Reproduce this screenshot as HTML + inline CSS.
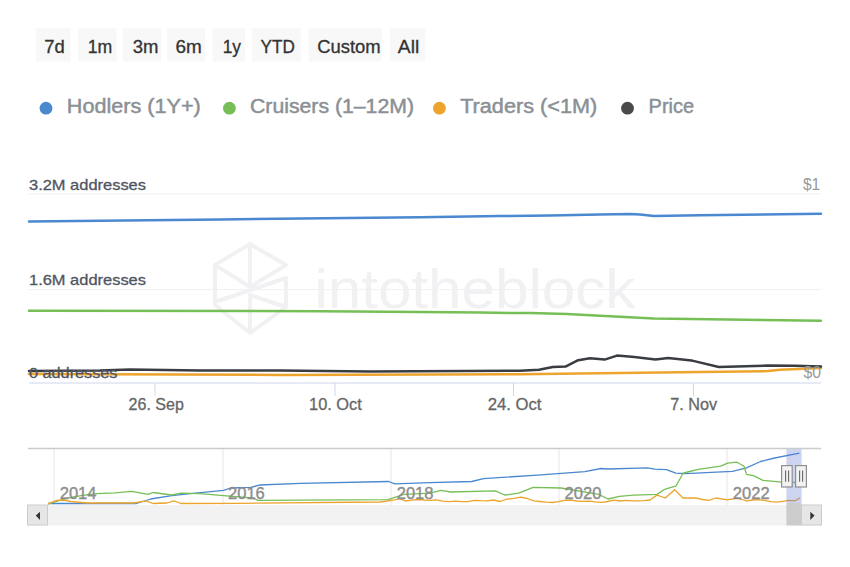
<!DOCTYPE html>
<html><head><meta charset="utf-8">
<style>
html,body{margin:0;padding:0;background:#fff;width:850px;height:567px;overflow:hidden}
svg{display:block;font-family:"Liberation Sans",sans-serif}
</style></head>
<body>
<svg width="850" height="567" viewBox="0 0 850 567">
<!-- range selector buttons -->
<g fill="#f8f8f8">
<rect x="36" y="28" width="34.5" height="33.5" rx="1"/>
<rect x="78" y="28" width="38.5" height="33.5" rx="1"/>
<rect x="122.6" y="28" width="39" height="33.5" rx="1"/>
<rect x="167" y="28" width="38" height="33.5" rx="1"/>
<rect x="212.6" y="28" width="32.4" height="33.5" rx="1"/>
<rect x="252" y="28" width="48.8" height="33.5" rx="1"/>
<rect x="308.5" y="28" width="73.3" height="33.5" rx="1"/>
<rect x="389.8" y="28" width="35.5" height="33.5" rx="1"/>
</g>
<g fill="#333" stroke="#333" stroke-width="0.3" font-size="17.6">
<text x="44.3" y="52.6" textLength="20.5" lengthAdjust="spacingAndGlyphs">7d</text>
<text x="87.7" y="52.6" textLength="24.6" lengthAdjust="spacingAndGlyphs">1m</text>
<text x="132.7" y="52.6" textLength="25.7" lengthAdjust="spacingAndGlyphs">3m</text>
<text x="175.5" y="52.6" textLength="26.3" lengthAdjust="spacingAndGlyphs">6m</text>
<text x="222.7" y="52.6" textLength="18.3" lengthAdjust="spacingAndGlyphs">1y</text>
<text x="260.6" y="52.6" textLength="34.2" lengthAdjust="spacingAndGlyphs">YTD</text>
<text x="317.2" y="52.6" textLength="63.5" lengthAdjust="spacingAndGlyphs">Custom</text>
<text x="397.8" y="52.6" textLength="21.4" lengthAdjust="spacingAndGlyphs">All</text>
</g>
<!-- legend -->
<circle cx="46" cy="108.2" r="6.4" fill="#4a88d0"/>
<circle cx="229.4" cy="108.2" r="6.4" fill="#76bf56"/>
<circle cx="439.4" cy="108.2" r="6.4" fill="#eca42c"/>
<circle cx="627.5" cy="108.2" r="6.4" fill="#4a4a4a"/>
<g fill="#8a9095" stroke="#8a9095" stroke-width="0.45" font-size="19.5">
<text x="66.8" y="113.2" textLength="134" lengthAdjust="spacingAndGlyphs">Hodlers (1Y+)</text>
<text x="250" y="113.2" textLength="164" lengthAdjust="spacingAndGlyphs">Cruisers (1–12M)</text>
<text x="460.2" y="113.2" textLength="137" lengthAdjust="spacingAndGlyphs">Traders (&lt;1M)</text>
<text x="648.6" y="113.2" textLength="45.5" lengthAdjust="spacingAndGlyphs">Price</text>
</g>
<!-- grid -->
<g stroke="#f0f0f0" stroke-width="1">
<line x1="29" y1="193.9" x2="821" y2="193.9"/>
<line x1="29" y1="289.6" x2="821" y2="289.6"/>
</g>
<line x1="29" y1="383" x2="821" y2="383" stroke="#ccd6eb" stroke-width="1"/>
<g stroke="#ccd6eb" stroke-width="1">
<line x1="155" y1="383" x2="155" y2="396"/>
<line x1="335" y1="383" x2="335" y2="396"/>
<line x1="513.5" y1="383" x2="513.5" y2="396"/>
<line x1="693.5" y1="383" x2="693.5" y2="396"/>
</g>
<!-- watermark -->
<g fill="none" stroke="#f1f1f4" stroke-width="4" stroke-linejoin="round" stroke-linecap="round">
<path d="M250,244 L286,265 M250,244 L215,265 L215,302 M250,244 L250,287 M215,265 L250,287 L286,265 M286,278 L215,302 M286,278 L286,307 M250,295 L286,307 M250,298 L250,333 M215,305 L250,333 L286,307"/>
</g>
<text x="314.4" y="307.6" font-size="56" fill="#f1f1f4" textLength="321" lengthAdjust="spacingAndGlyphs">intotheblock</text>
<!-- main series -->
<g fill="none" stroke-width="2.5" stroke-linejoin="round" stroke-linecap="round">
<path stroke="#4a88d0" d="M29,221.5 L220,219.5 L420,217.2 L500,216.1 L550,215.4 L600,214.5 L630,214.1 L640,214.4 L654,216.1 L700,215.2 L821,213.8"/>
<path stroke="#76bf56" d="M29,310.7 L320,311.2 L420,312 L480,312.6 L530,313.1 L567,314 L600,315.7 L654,318.4 L821,320.8"/>
<path stroke="#eca42c" d="M29,374.1 L280,374.9 L520,374.2 L700,372.1 L768,371.1 L780,369.7 L821,368"/>
<path stroke="#393c41" d="M29,371 L100,370.6 L130,369.5 L200,370.4 L280,370.5 L370,371.4 L520,370.8 L539,369.8 L552.8,367 L565.5,366.6 L578.2,360.2 L590,358.3 L604.7,359.6 L617,355.6 L634.4,357 L655.5,359.4 L668.2,358.1 L691.5,360.5 L693.2,360.9 L718.8,367 L768,365.6 L794.7,365.8 L821,366.5"/>
</g>
<!-- axis labels -->
<g fill="#4f5563" stroke="#4f5563" stroke-width="0.3" font-size="15">
<text x="29" y="189.8" textLength="117" lengthAdjust="spacingAndGlyphs">3.2M addresses</text>
<text x="29" y="284.8" textLength="117" lengthAdjust="spacingAndGlyphs">1.6M addresses</text>
<text x="29" y="378.3" textLength="88.5" lengthAdjust="spacingAndGlyphs">0 addresses</text>
</g>
<g fill="#999" font-size="16.5">
<text x="803" y="190.2" textLength="17.2" lengthAdjust="spacingAndGlyphs">$1</text>
<text x="803.5" y="378.2" textLength="17.5" lengthAdjust="spacingAndGlyphs">$0</text>
</g>
<g fill="#666" stroke="#666" stroke-width="0.3" font-size="16.4">
<text x="128.6" y="409.7" textLength="55.2" lengthAdjust="spacingAndGlyphs">26. Sep</text>
<text x="309.1" y="409.7" textLength="52.7" lengthAdjust="spacingAndGlyphs">10. Oct</text>
<text x="487.7" y="409.7" textLength="53.7" lengthAdjust="spacingAndGlyphs">24. Oct</text>
<text x="670.3" y="409.7" textLength="46.9" lengthAdjust="spacingAndGlyphs">7. Nov</text>
</g>
<!-- navigator -->
<g stroke="#e6e6e6" stroke-width="1">
<line x1="54" y1="449" x2="54" y2="505"/>
<line x1="223" y1="449" x2="223" y2="505"/>
<line x1="391" y1="449" x2="391" y2="505"/>
<line x1="559" y1="449" x2="559" y2="505"/>
<line x1="727" y1="449" x2="727" y2="505"/>
</g>
<g fill="none" stroke-width="1.3" stroke-linejoin="round">
<path stroke="#4a88d0" d="M48,503.5 L136.5,503.5 L150.6,499 L171.8,495.6 L190.6,493.7 L223.5,490.4 L230.6,488 L251,487.4 L259.4,485 L300.6,483.4 L388.8,481.5 L394.7,483.8 L430,482.6 L471.8,481.5 L483.5,478.6 L537.6,475.1 L584.7,471.6 L601,468.5 L608,469 L647.6,467.8 L654.7,469.2 L666.5,469.7 L675.9,473.2 L685.3,473.7 L732.4,471.4 L746.5,467.8 L760.6,461.5 L774.7,458 L799.4,453.2"/>
<path stroke="#76bf56" d="M48.2,503.8 L68,498 L81,495.6 L96.5,493.7 L115,492.8 L131.8,491.4 L148,494.4 L153,492.5 L171.8,495 L181,493.2 L200,493.7 L223.5,495.6 L252.4,498 L258,500.3 L388,499.6 L404,494.4 L430,493.2 L441,490.4 L450.6,492 L495.3,490.9 L504.7,495 L518.8,493.2 L533,487.4 L561,488 L598.8,494.4 L608,499 L619.4,496.3 L633.5,495.1 L657,494.4 L664,489.7 L671,487.4 L675.9,486.2 L683,473.2 L687.6,472 L699.4,469.2 L708.8,467.8 L720.6,466.2 L727.6,463.1 L737,462.2 L744,466.2 L746.5,474.4 L753.5,475.6 L763,480.3 L781.8,482.2 L799,482.5"/>
<path stroke="#eca42c" d="M48,503.8 L56.5,500.3 L63.5,500 L70.6,501.5 L87,503 L134,503 L146,500.8 L153,503.5 L167,503 L174,500.8 L181,503.5 L240,503.3 L380,502 L394.7,499.8 L399.4,498.6 L405.3,501 L411.5,500.1 L417.6,499.5 L423.8,500.0 L430,500.3 L436.4,499.9 L442.7,501.2 L449.1,501.7 L455.5,501.1 L461.8,501.7 L468.2,501.6 L474.5,500.4 L480.9,500.7 L487.3,500.8 L493.6,500.0 L500,501.5 L507.0,499.2 L514.0,498.4 L521,497.2 L527.3,498.5 L533.7,500.8 L540,501.5 L546.2,502.1 L552.3,502.5 L558.5,501.6 L564.6,500.3 L570.8,500.2 L576.9,501.0 L583.1,501.3 L589.2,501.2 L595.4,501.9 L601.5,502.4 L607.7,501.5 L613.8,500.2 L620,501 L626.0,500.4 L632.0,500.9 L638.0,500.9 L644.0,500.6 L650,500 L657,495.1 L665.3,498 L674.7,489.7 L683,498 L689.5,498.0 L695.9,497.8 L702.3,499.5 L708.8,500.3 L715.9,498 L727.6,499.8 L737,498 L746.5,500.8 L752.6,500.0 L758.6,499.6 L764.7,500.4 L770.8,501.7 L776.8,502.1 L782.9,501.3 L788.9,500.4 L795,500.8 L800,498"/>
</g>
<rect x="786.4" y="449" width="15.2" height="54" fill="rgb(102,125,210)" fill-opacity="0.33"/>
<line x1="28" y1="448.5" x2="821" y2="448.5" stroke="#cccccc" stroke-width="1.5"/>
<g fill="#8c8c8c" stroke="#8c8c8c" stroke-width="0.35" font-size="16.5">
<text x="59.7" y="498.8" textLength="36.8" lengthAdjust="spacingAndGlyphs">2014</text>
<text x="228" y="498.8" textLength="36.8" lengthAdjust="spacingAndGlyphs">2016</text>
<text x="396.7" y="498.8" textLength="36.8" lengthAdjust="spacingAndGlyphs">2018</text>
<text x="564.6" y="498.8" textLength="36.8" lengthAdjust="spacingAndGlyphs">2020</text>
<text x="732.8" y="498.8" textLength="36.8" lengthAdjust="spacingAndGlyphs">2022</text>
</g>
<!-- scrollbar -->
<rect x="28" y="505" width="793" height="20.5" fill="#f2f2f2"/>
<rect x="786.4" y="503" width="15.2" height="22.5" fill="#cccccc"/>
<rect x="27.5" y="505" width="20" height="20" fill="#e6e6e6" stroke="#cccccc" stroke-width="1"/>
<rect x="801.5" y="505" width="20" height="20" fill="#e6e6e6" stroke="#cccccc" stroke-width="1"/>
<path d="M35.8,515.4 L40,511.8 L40,519.9 Z" fill="#333"/>
<path d="M814.5,515.4 L810.3,511.8 L810.3,519.9 Z" fill="#333"/>
<!-- handles -->
<g fill="#f2f2f2" stroke="#8f8f8f" stroke-width="1.2">
<rect x="781.6" y="465.6" width="10.6" height="21.4"/>
<rect x="795.6" y="465.6" width="10.8" height="21.4"/>
</g>
<g stroke="#666" stroke-width="1.1">
<line x1="785.6" y1="470.6" x2="785.6" y2="481.8"/>
<line x1="788.6" y1="470.6" x2="788.6" y2="481.8"/>
<line x1="799.6" y1="470.6" x2="799.6" y2="481.8"/>
<line x1="802.6" y1="470.6" x2="802.6" y2="481.8"/>
</g>
</svg>
</body></html>
